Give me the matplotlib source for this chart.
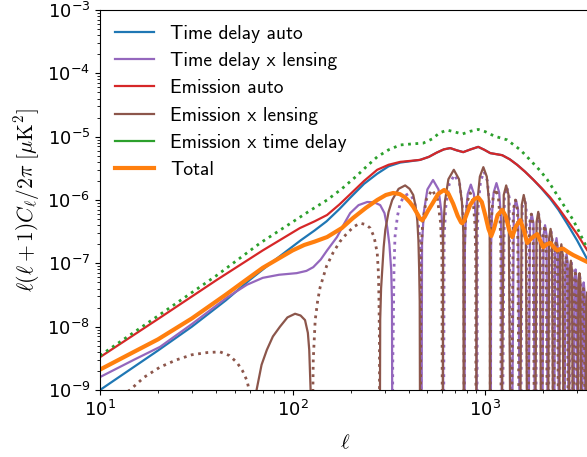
import numpy as np
import matplotlib
matplotlib.use("Agg")
from matplotlib import pyplot as plt
from matplotlib.lines import Line2D

plt.rcParams['mathtext.fontset'] = 'cm'

# --- data (ell, C_ell in muK^2); 0 marks a sign change ---
ell_td = [10, 20, 30, 45, 60, 80, 110, 130, 150, 175, 200, 235, 275, 315, 362, 410,
          459, 510, 560, 610, 658, 710, 769, 840, 920, 990, 1062, 1140, 1225, 1340,
          1464, 1610, 1775, 1960, 2175, 2400, 2666, 3000, 3390, 3500]
td_auto = [1.0e-9, 4.2e-9, 1.0e-8, 2.6e-8, 5.5e-8, 1.1e-7, 2.3e-7, 3.3e-7, 4.6e-7,
           7.2e-7, 1.1e-6, 1.8e-6, 2.6e-6, 3.4e-6, 3.9e-6, 4.1e-6, 4.3e-6, 4.8e-6,
           5.6e-6, 6.3e-6, 6.6e-6, 6.1e-6, 5.7e-6, 6.3e-6, 6.9e-6, 6.2e-6, 5.5e-6,
           5.3e-6, 5.1e-6, 4.4e-6, 3.6e-6, 2.8e-6, 2.1e-6, 1.52e-6, 1.05e-6, 7.0e-7,
           4.2e-7, 2.3e-7, 1.15e-7, 1.0e-7]

ell_em = [10, 20, 40.5, 70, 109, 130, 151, 175, 200, 235, 275, 315, 362, 410, 459, 510,
          560, 610, 658, 710, 769, 840, 920, 990, 1062, 1140, 1225, 1340, 1464, 1610,
          1775, 1960, 2175, 2400, 2666, 3000, 3390, 3500]
em_auto = [3.3e-9, 1.32e-8, 5.5e-8, 1.6e-7, 3.6e-7, 4.6e-7, 5.8e-7, 8.5e-7, 1.25e-6,
           2.0e-6, 3.0e-6, 3.6e-6, 4.0e-6, 4.15e-6, 4.3e-6, 4.8e-6, 5.6e-6, 6.3e-6,
           6.6e-6, 6.1e-6, 5.7e-6, 6.3e-6, 6.9e-6, 6.2e-6, 5.5e-6, 5.3e-6, 5.1e-6,
           4.4e-6, 3.6e-6, 2.8e-6, 2.1e-6, 1.55e-6, 1.1e-6, 7.5e-7, 4.8e-7, 2.9e-7,
           1.6e-7, 1.45e-7]

ell_emtd = [10, 20, 40.5, 68, 100, 125, 151, 180, 215, 245, 275, 315, 362, 420, 476, 530,
            580, 635, 700, 760, 840, 920, 1000, 1080, 1153, 1300, 1400, 1520, 1640, 1775,
            1930, 2099, 2270, 2454, 2650, 2865, 3050, 3230, 3500]
em_x_td = [-3.5e-9, -1.48e-8, -6.5e-8, -2.1e-7, -4.5e-7, -7.0e-7, -1.0e-6, -1.5e-6,
           -2.4e-6, -3.5e-6, -4.8e-6, -6.2e-6, -7.4e-6, -7.7e-6, -7.9e-6, -9.2e-6,
           -1.15e-5, -1.27e-5, -1.18e-5, -1.1e-5, -1.22e-5, -1.3e-5, -1.2e-5, -1.07e-5,
           -9.9e-6, -8.9e-6, -7.5e-6, -6.2e-6, -4.9e-6, -3.8e-6, -2.9e-6, -2.1e-6,
           -1.45e-6, -1.0e-6, -7.0e-7, -4.8e-7, -3.3e-7, -2.3e-7, -1.4e-7]

ell_tot = [10, 15, 20, 30, 45, 55, 70, 85, 100, 115, 130, 151, 180, 206, 240, 275, 305,
           333, 360, 384, 405, 423, 445, 460, 471, 485, 505, 531, 570, 612, 645, 682,
           720, 750, 760, 780, 835, 875, 920, 960, 1000, 1040, 1075, 1110, 1160, 1225,
           1280, 1330, 1381, 1440, 1520, 1590, 1651, 1740, 1862, 1930, 2000, 2090, 2175,
           2270, 2366, 2450, 2540, 2700, 2865, 3100, 3390, 3500]
total = [2.1e-9, 4.0e-9, 6.3e-9, 1.35e-8, 3.2e-8, 5.0e-8, 8.5e-8, 1.2e-7, 1.6e-7,
         1.95e-7, 2.2e-7, 2.6e-7, 3.6e-7, 5.2e-7, 7.5e-7, 1.0e-6, 1.2e-6, 1.29e-6,
         1.24e-6, 1.1e-6, 9.3e-7, 7.8e-7, 6.0e-7, 5.0e-7, 4.8e-7, 5.4e-7, 6.8e-7, 8.7e-7,
         1.25e-6, 1.44e-6, 1.25e-6, 8.7e-7, 5.6e-7, 4.4e-7, 4.3e-7, 4.8e-7, 8.3e-7,
         1.03e-6, 1.1e-6, 9.3e-7, 5.8e-7, 3.5e-7, 2.7e-7, 3.5e-7, 5.8e-7, 7.0e-7, 5.5e-7,
         3.4e-7, 2.6e-7, 3.8e-7, 4.8e-7, 3.3e-7, 2.1e-7, 2.5e-7, 2.9e-7, 2.3e-7, 1.8e-7,
         2.0e-7, 2.1e-7, 1.8e-7, 1.6e-7, 1.68e-7, 1.7e-7, 1.5e-7, 1.35e-7, 1.2e-7,
         1.05e-7, 1.0e-7]

ell_tdl = [10, 15, 20.5, 30, 45.7, 58, 70, 85, 105, 118, 128, 140, 151, 170, 185, 199,
           220, 244, 265, 285, 300, 310, 318, 325, 328, 330,
           331, 333, 336, 340, 350, 362, 380, 398, 415, 430, 445, 455, 462, 466,
           470, 480, 501, 536, 572, 593, 603, 607,
           612, 624, 650, 693, 737, 763, 775, 780,
           784, 792, 811, 842, 874, 892, 901, 905,
           910, 921, 946, 986, 1027, 1052, 1063, 1068,
           1073, 1083, 1106, 1144, 1182, 1205, 1215, 1220,
           1258, 1295, 1332, 1370, 1408, 1445, 1482, 1520,
           1558, 1595, 1632, 1670, 1708, 1745, 1782, 1820,
           1858, 1895, 1932, 1970, 2008, 2045, 2082, 2120,
           2158, 2195, 2232, 2270, 2308, 2345, 2382, 2420,
           2458, 2495, 2532, 2570, 2608, 2645, 2682, 2720,
           2758, 2795, 2832, 2870, 2908, 2945, 2982, 3020,
           3058, 3095, 3132, 3170, 3208, 3245, 3282, 3320,
           3358, 3395, 3432, 3470]
td_x_lens = [1.6e-9, 3.0e-9, 4.8e-9, 1.1e-8, 2.9e-8, 4.6e-8, 5.9e-8, 6.6e-8, 7.0e-8,
             7.6e-8, 8.7e-8, 1.15e-7, 1.6e-7, 2.6e-7, 4.2e-7, 6.2e-7, 8.3e-7, 9.3e-7,
             9.2e-7, 8.3e-7, 6.2e-7, 3.7e-7, 2.0e-7, 7.9e-8, 2.5e-8, 0,
             -2.5e-9, -8e-9, -8e-8, -2.6e-7, -5.5e-7, -9.0e-7, -1.15e-6, -1.25e-6,
             -1.15e-6, -9e-7, -5.5e-7, -3e-7, -1.2e-7, 0,
             2.07e-7, 6.4e-7, 1.47e-6, 2.07e-6, 1.47e-6, 6.4e-7, 2.07e-7, 0,
             -2.5e-7, -7.75e-7, -1.78e-6, -2.5e-6, -1.78e-6, -7.75e-7, -2.5e-7, 0,
             1.75e-7, 5.4e-7, 1.24e-6, 1.75e-6, 1.24e-6, 5.4e-7, 1.75e-7, 0,
             -2.8e-7, -8.7e-7, -1.99e-6, -2.8e-6, -1.99e-6, -8.7e-7, -2.8e-7, 0,
             1.85e-7, 5.7e-7, 1.31e-6, 1.85e-6, 1.31e-6, 5.7e-7, 1.85e-7, 0,
             -1.1e-6, -1.6e-6, -1.1e-6, 0, 7e-7, 1.0e-6, 7e-7, 0,
             -7.7e-7, -1.1e-6, -7.7e-7, 0, 4.2e-7, 6e-7, 4.2e-7, 0,
             -4.2e-7, -6e-7, -4.2e-7, 0, 2.8e-7, 4e-7, 2.8e-7, 0,
             -2.3e-7, -3.3e-7, -2.3e-7, 0, 1.75e-7, 2.5e-7, 1.75e-7, 0,
             -1.3e-7, -1.9e-7, -1.3e-7, 0, 1e-7, 1.4e-7, 1e-7, 0,
             -7.7e-8, -1.1e-7, -7.7e-8, 0, 5.6e-8, 8e-8, 5.6e-8, 0,
             -4.5e-8, -6.5e-8, -4.5e-8, 0, 3.5e-8, 5e-8, 3.5e-8, 0,
             -2.5e-8, -3.5e-8, -2.5e-8, 0]

ell_eml = [10, 12, 14.3, 17, 20.5, 25, 30, 36, 42, 47, 51.5, 55, 58, 61, 63.5,
           65, 69, 73.5, 79, 86, 94, 103, 110, 116, 120, 122, 124, 125,
           128, 131, 135, 139, 150, 162, 176, 192, 208, 224, 240, 253, 265, 275, 279,
           281, 282.5, 283,
           285, 288, 292, 297, 303, 315, 329, 355, 384, 405, 423, 435, 444, 450, 454,
           457, 460,
           464, 474, 495, 530, 565, 586, 596, 600,
           605, 617, 644, 687, 731, 757, 770, 775,
           779, 787, 805, 836, 867, 885, 893, 897,
           902, 913, 938, 978, 1019, 1044, 1055, 1060,
           1064, 1075, 1098, 1135, 1172, 1195, 1206, 1210,
           1248, 1285, 1322, 1360, 1398, 1435, 1472, 1510,
           1548, 1585, 1622, 1660, 1698, 1735, 1772, 1810,
           1848, 1885, 1922, 1960, 1998, 2035, 2072, 2110,
           2148, 2185, 2222, 2260, 2298, 2335, 2372, 2410,
           2448, 2485, 2522, 2560, 2598, 2635, 2672, 2710,
           2748, 2785, 2822, 2860, 2898, 2935, 2972, 3010,
           3048, 3085, 3122, 3160, 3198, 3235, 3272, 3310,
           3348, 3385, 3422, 3460]
em_x_lens = [-4e-10, -7e-10, -1.0e-9, -1.6e-9, -2.3e-9, -3.0e-9, -3.6e-9, -3.9e-9,
             -4.0e-9, -3.5e-9, -2.7e-9, -2.0e-9, -1.4e-9, -7e-10, 0,
             1.0e-9, 2.5e-9, 4.3e-9, 7e-9, 1.0e-8, 1.4e-8, 1.6e-8, 1.5e-8, 1.27e-8, 8e-9,
             4.3e-9, 1.0e-9, 0,
             -3e-9, -1.27e-8, -2.6e-8, -4.2e-8, -9e-8, -1.46e-7, -2.2e-7, -3.0e-7,
             -3.8e-7, -4.3e-7, -4.1e-7, -3.6e-7, -2.6e-7, -1.46e-7, -7e-8, -2.4e-8,
             -5e-9, 0,
             1.3e-8, 4e-8, 7.9e-8, 1.8e-7, 3.4e-7, 6.5e-7, 1.0e-6, 1.5e-6, 1.7e-6,
             1.5e-6, 1.2e-6, 8e-7, 4.8e-7, 2.3e-7, 8e-8, 2.5e-8, 0,
             -1.45e-7, -4.5e-7, -1.03e-6, -1.45e-6, -1.03e-6, -4.5e-7, -1.45e-7, 0,
             3e-7, 9.3e-7, 2.13e-6, 3.0e-6, 2.13e-6, 9.3e-7, 3e-7, 0,
             -1.3e-7, -4.0e-7, -9.2e-7, -1.3e-6, -9.2e-7, -4.0e-7, -1.3e-7, 0,
             3.3e-7, 1.02e-6, 2.34e-6, 3.3e-6, 2.34e-6, 1.02e-6, 3.3e-7, 0,
             -1.5e-7, -4.65e-7, -1.07e-6, -1.5e-6, -1.07e-6, -4.65e-7, -1.5e-7, 0,
             1.2e-6, 1.7e-6, 1.2e-6, 0, -7e-7, -1.0e-6, -7e-7, 0,
             8.4e-7, 1.2e-6, 8.4e-7, 0, -4.2e-7, -6e-7, -4.2e-7, 0,
             4.5e-7, 6.5e-7, 4.5e-7, 0, -2.8e-7, -4e-7, -2.8e-7, 0,
             2.5e-7, 3.5e-7, 2.5e-7, 0, -1.6e-7, -2.3e-7, -1.6e-7, 0,
             1.4e-7, 2e-7, 1.4e-7, 0, -9e-8, -1.3e-7, -9e-8, 0,
             7.7e-8, 1.1e-7, 7.7e-8, 0, -5e-8, -7e-8, -5e-8, 0,
             5e-8, 7e-8, 5e-8, 0, -2.8e-8, -4e-8, -2.8e-8, 0,
             2.5e-8, 3.5e-8, 2.5e-8, 0]

labels = ['Time delay auto', 'Time delay x lensing', 'Emission auto',
          'Emission x lensing', 'Emission x time delay', 'Total']
colors = ['C0', 'C4', 'C3', 'C5', 'C2', 'C1']
FLOOR = 1e-11  # where a cross spectrum changes sign


def plot_signed(ax, ell, val, color, lw):
    ell = np.asarray(ell, float)
    val = np.asarray(val, float)
    pos = np.where(val > 0, val, np.nan)
    neg = np.where(val < 0, -val, np.nan)
    pos[val == 0] = FLOOR
    neg[val == 0] = FLOOR
    ax.plot(ell, pos, '-', color=color, lw=lw)
    ax.plot(ell, neg, ':', color=color, lw=lw + 0.4)


fig = plt.figure(figsize=(5.87, 4.57), dpi=100)
ax = fig.add_axes([100 / 587, 1 - 390 / 457, 490 / 587, 380 / 457])

series = [(ell_td, td_auto), (ell_tdl, td_x_lens), (ell_em, em_auto),
          (ell_eml, em_x_lens), (ell_emtd, em_x_td), (ell_tot, total)]
for (ell, val), c in zip(series, colors):
    lw = 3.0 if c == 'C1' else 1.6
    plot_signed(ax, ell, val, c, lw)

ax.set_xscale('log')
ax.set_yscale('log')
ax.set_xlim(10, 3500)
ax.set_ylim(1e-9, 1e-3)
ax.tick_params(labelsize=13)
ax.set_xlabel(r'$\ell$', fontsize=15, labelpad=9)
ax.set_ylabel(r'$\ell(\ell+1)C_\ell/2\pi\ [\mu{\rm K}^2]$', fontsize=15.5)

handles = [Line2D([], [], color=c, lw=(3.0 if c == 'C1' else 1.6)) for c in colors]
ax.legend(handles, labels, loc='upper left', frameon=False,
          prop={'family': 'cmss10', 'size': 14}, handlelength=2.05,
          labelspacing=0.48, borderaxespad=0.35)

fig.savefig('out.png', dpi=100)
